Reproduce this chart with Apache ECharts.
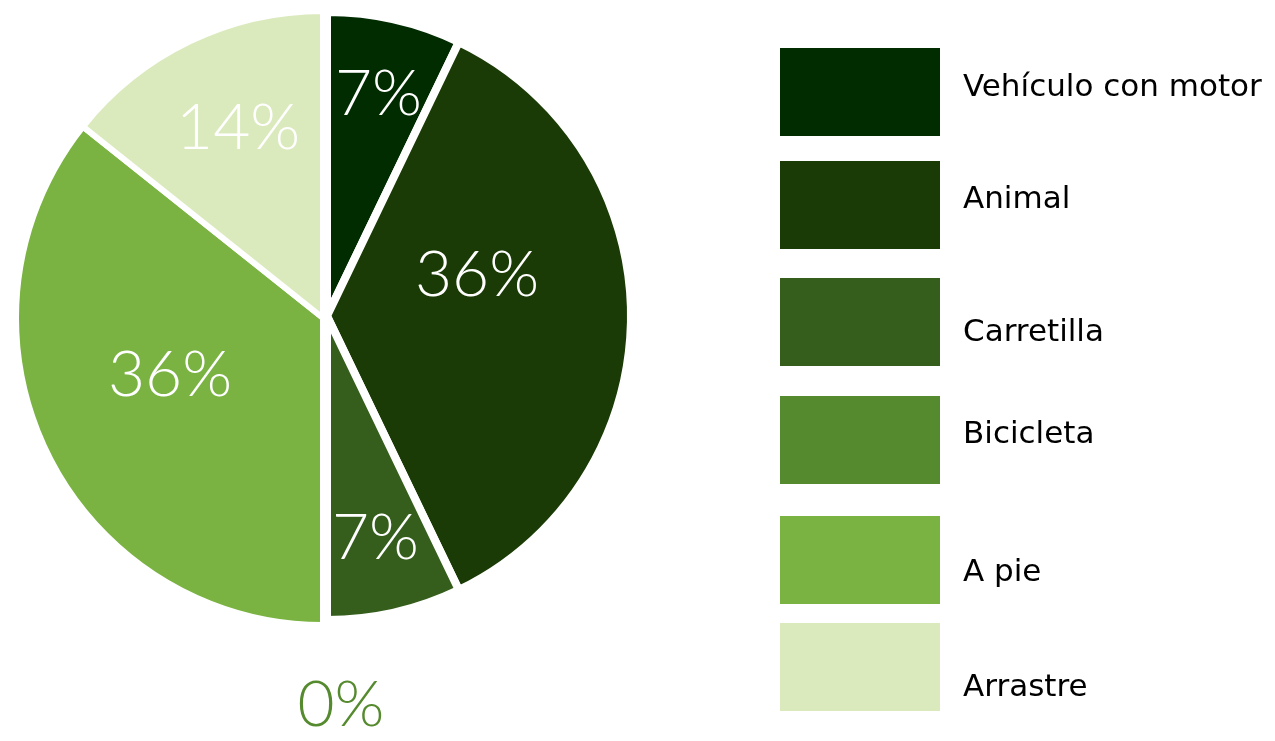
<!DOCTYPE html>
<html>
<head>
<meta charset="utf-8">
<script src="https://cdn.jsdelivr.net/npm/echarts@6/dist/echarts.min.js"></script>
<style>
  html, body { margin: 0; padding: 0; background: #fff; }
  #chart { width: 1275px; height: 741px; }
</style>
</head>
<body>
<div id="chart"></div>
<script>
// data
var categories = ['Vehículo con motor', 'Animal', 'Carretilla', 'Bicicleta', 'A pie', 'Arrastre'];
var counts = [1, 5, 1, 0, 5, 2];
var colors = ['#002c00', '#1a3b05', '#355e1c', '#568a2f', '#7ab342', '#dbeabd'];

// which slices sit in the right (shifted) half of the pie
var rightHalf = [true, true, true, true, false, false];

// layout bits
var legendTops = [48, 161, 278, 396, 516, 623];
var legendTextPad = [[0, 0, 8, 18], [0, 0, 10, 18], [21, 0, 0, 18], [0, 0, 11, 18], [25, 0, 0, 18], [42, 0, 0, 18]];
var labelNudge = [[17, -71], [-5, -41], [14, 71], [9, 0], [-12, -11], [-17, -49]];

var labelFont = { fontFamily: 'Lato', fontWeight: 300, fontSize: 64 };

function halfSeries(isRight, center, radius, border) {
    return {
        type: 'pie',
        silent: true,
        center: center,
        radius: radius,
        startAngle: 90,
        clockwise: true,
        avoidLabelOverlap: false,
        percentPrecision: 0,
        itemStyle: { borderColor: '#fff', borderWidth: border },
        label: Object.assign({ show: true, position: 'inside', formatter: '{d}%', color: '#fff' }, labelFont),
        labelLine: { show: false },
        emphasis: { disabled: true },
        labelLayout: function (p) {
            var n = labelNudge[p.dataIndex];
            if (counts[p.dataIndex] === 0) return { align: 'center', dx: n[0], dy: n[1] };
            return { dx: n[0], dy: n[1] };
        },
        data: categories.map(function (name, i) {
            var mine = rightHalf[i] === isRight;
            var item = {
                name: name,
                value: counts[i],
                itemStyle: mine ? { color: colors[i] } : { color: 'transparent', borderWidth: 0 },
                label: { show: mine }
            };
            if (mine && counts[i] === 0) {
                item.label = Object.assign({ show: true, position: 'outside', color: colors[i] }, labelFont);
                item.labelLine = { show: false, length: 85, length2: 0 };
            }
            return item;
        })
    };
}

var myChart = echarts.init(document.getElementById('chart'));
var option = {
    backgroundColor: '#fff',
    animation: false,
    legend: categories.map(function (name, i) {
        return {
            data: [{ name: name, itemStyle: { color: colors[i], borderWidth: 0 } }],
            left: 780,
            top: legendTops[i],
            padding: 0,
            icon: 'rect',
            itemWidth: 160,
            itemHeight: 88,
            selectedMode: false,
            formatter: '{t|{name}}',
            textStyle: {
                rich: {
                    t: {
                        fontFamily: 'DejaVu Sans',
                        fontSize: 31,
                        color: '#000',
                        padding: legendTextPad[i]
                    }
                }
            }
        };
    }),
    series: [
        halfSeries(true, [327, 316], 304, 8),
        halfSeries(false, [323, 318], 307, 6)
    ]
};
myChart.setOption(option);
</script>
</body>
</html>
